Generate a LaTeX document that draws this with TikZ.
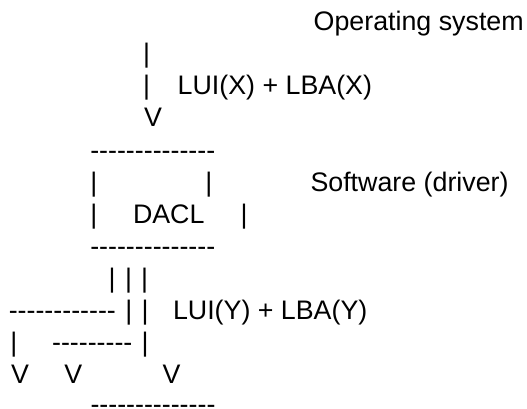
\documentclass[tikz,border=0pt]{standalone}
\usepackage{fontspec}
\newfontfamily\af{Liberation Sans}[Ligatures=TeXOff]
\begin{document}
\begin{tikzpicture}[x=1pt,y=-1pt,
  txt/.style={anchor=base west,inner sep=0pt,outer sep=0pt,text=black,
    font=\af\fontsize{26.8}{32}\selectfont}]
\useasboundingbox[fill=white] (0,0) rectangle (527,409);
% line baselines: 30.6 + (k-1)*32.1
% line 1
\node[txt] (os) at (313.7,30.6) {Operating system};
% line 2
\node[txt] (bara) at (143,62.7) {|};
% line 3
\node[txt] (barb) at (143,94.8) {|};
\node[txt] (lbax) at (177.7,94.8) {LUI(X) + LBA(X)};
% line 4
\node[txt] (va) at (144,126.9) {V};
% line 5
\node[txt] (boxtop) at (90.3,159.0) {--------------};
% line 6
\node[txt] (bl1) at (90.3,191.1) {|};
\node[txt] (br1) at (205.3,191.1) {|};
\node[txt] (sw) at (310.5,191.1) {Software (driver)};
% line 7
\node[txt] (bl2) at (90.3,223.2) {|};
\node[txt] (dacl) at (133,223.2) {DACL};
\node[txt] (br2) at (240.6,223.2) {|};
% line 8
\node[txt] (boxbot) at (90.3,255.3) {--------------};
% line 9
\node[txt] (t1) at (108.6,287.4) {|};
\node[txt] (t2) at (125,287.4) {|};
\node[txt] (t3) at (141.2,287.4) {|};
% line 10
\node[txt] (da) at (8.8,319.5) {------------};
\node[txt] (u2) at (125.3,319.5) {|};
\node[txt] (u3) at (141.6,319.5) {|};
\node[txt] (lbay) at (173,319.5) {LUI(Y) + LBA(Y)};
% line 11
\node[txt] (w1) at (10.3,351.6) {|};
\node[txt] (db) at (52.1,351.6) {---------};
\node[txt] (w3) at (141.6,351.6) {|};
% line 12
\node[txt] (v1) at (11,383.7) {V};
\node[txt] (v2) at (64.3,383.7) {V};
\node[txt] (v3) at (162.7,383.7) {V};
% line 13
\node[txt] (dc) at (90.5,413.0) {--------------};
\end{tikzpicture}
\end{document}
